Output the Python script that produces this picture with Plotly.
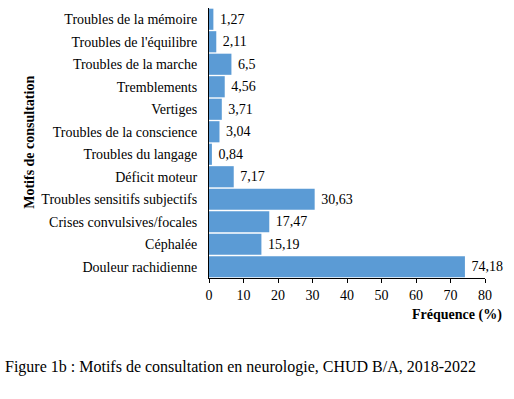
import plotly.graph_objects as go

categories = ["Troubles de la mémoire", "Troubles de l'équilibre", "Troubles de la marche",
              "Tremblements", "Vertiges", "Troubles de la conscience", "Troubles du langage",
              "Déficit moteur", "Troubles sensitifs subjectifs", "Crises convulsives/focales",
              "Céphalée", "Douleur rachidienne"]
values = [1.27, 2.11, 6.5, 4.56, 3.71, 3.04, 0.84, 7.17, 30.63, 17.47, 15.19, 74.18]
x_ticks = [0, 10, 20, 30, 40, 50, 60, 70, 80]

labels = ["\u00a0" + str(v).replace(".", ",") for v in values]
FONT = "Liberation Serif"

fig = go.Figure(go.Bar(
    y=categories, x=values, orientation="h",
    marker=dict(color="#5B9BD5", line=dict(width=0)),
    text=labels, textposition="outside", cliponaxis=False,
    textfont=dict(family=FONT, size=14, color="black"),
))
fig.update_layout(
    width=514, height=399,
    margin=dict(l=209, r=29, t=8, b=121),
    paper_bgcolor="white", plot_bgcolor="white",
    bargap=0.06, showlegend=False,
    font=dict(family=FONT, size=14, color="black"),
    xaxis=dict(range=[0, 80], tickvals=x_ticks, showgrid=False, zeroline=False,
               showline=True, linecolor="black", linewidth=1,
               ticks="outside", ticklen=4, tickcolor="black",
               tickfont=dict(family=FONT, size=14)),
    yaxis=dict(autorange="reversed", showgrid=False, zeroline=False,
               showline=True, linecolor="black", linewidth=1,
               ticks="", ticklabelstandoff=8,
               tickfont=dict(family=FONT, size=14)),
    annotations=[
        dict(text="<b>Fréquence (%)</b>", xref="paper", yref="paper", x=1.07, y=-0.137,
             xanchor="right", yanchor="middle", showarrow=False,
             font=dict(family=FONT, size=14)),
        dict(text="<b>Motifs de consultation</b>", xref="paper", yref="paper",
             x=-0.649, y=0.504, xanchor="center", yanchor="middle", textangle=-90,
             showarrow=False, font=dict(family=FONT, size=14)),
        dict(text="Figure 1b : Motifs de consultation en neurologie, CHUD B/A, 2018-2022",
             xref="paper", yref="paper", x=-0.746, y=-0.33,
             xanchor="left", yanchor="middle", showarrow=False,
             font=dict(family=FONT, size=16)),
    ],
)
fig.write_html("out.html", config={"displayModeBar": False},
               post_script="document.body.style.margin='0';")
